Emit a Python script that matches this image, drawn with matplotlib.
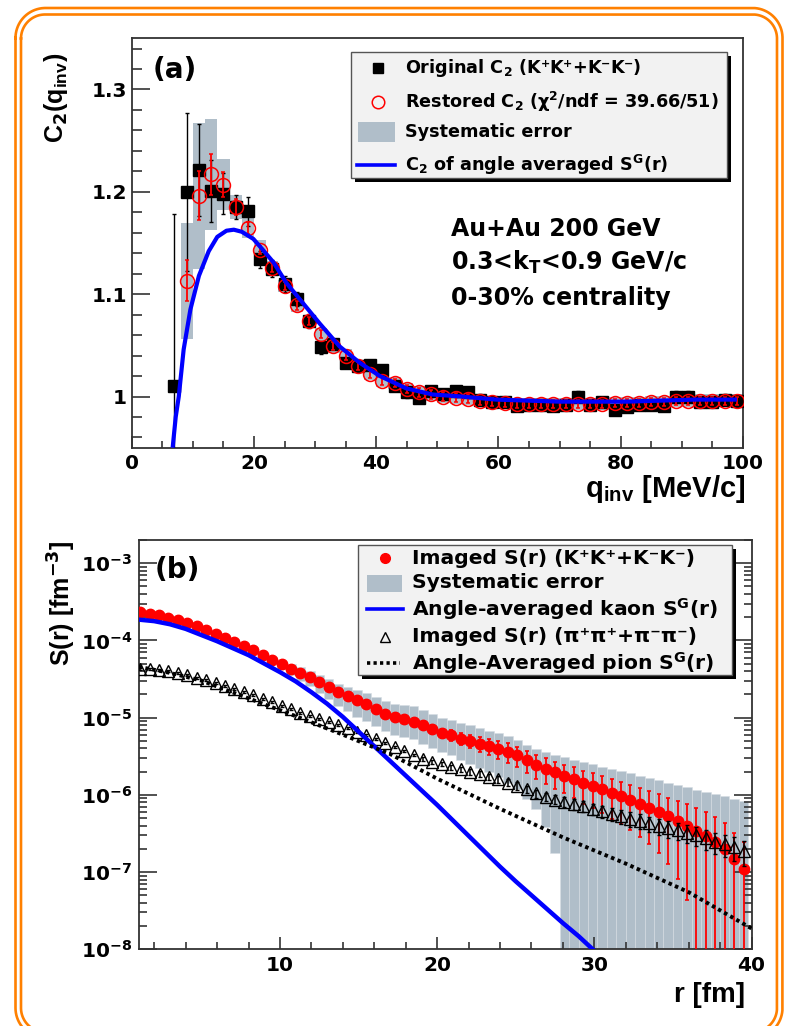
import numpy as np
import matplotlib
matplotlib.use("Agg")
import matplotlib.pyplot as plt
from matplotlib.patches import Rectangle
from matplotlib.ticker import FixedLocator, MultipleLocator, LogLocator, NullFormatter, FuncFormatter

plt.rcParams['font.family'] = ['DejaVu Sans']
plt.rcParams['font.weight'] = 'bold'
plt.rcParams['mathtext.fontset'] = 'custom'
plt.rcParams['mathtext.rm'] = 'DejaVu Sans:bold'
plt.rcParams['mathtext.bf'] = 'DejaVu Sans:bold'
plt.rcParams['mathtext.it'] = 'DejaVu Sans:bold'
plt.rcParams['mathtext.sf'] = 'DejaVu Sans:bold'
plt.rcParams['mathtext.default'] = 'rm'

W, H = 786, 1026
GREY = '#b0bec9'
BLUE = '#0000ff'
ORANGE = '#ff8000'

# ---------------- panel (a): two-kaon correlation function ----------------
q_orig = np.arange(7, 100, 2)
c2_orig = [1.010, 1.200, 1.221, 1.201, 1.198, 1.185, 1.181, 1.134, 1.125, 1.110,
           1.095, 1.074, 1.048, 1.051, 1.033, 1.030, 1.031, 1.026, 1.010, 1.004,
           0.999, 1.005, 1.002, 1.005, 1.004, 0.997, 0.995, 0.995, 0.991, 0.992,
           0.992, 0.991, 0.992, 1.000, 0.992, 0.995, 0.987, 0.990, 0.992, 0.992,
           0.991, 1.000, 1.000, 0.995, 0.995, 0.997, 0.996]
c2_orig_err = [0.168, 0.077, 0.045, 0.030, 0.020, 0.012, 0.014, 0.008, 0.008, 0.008,
               0.007, 0.007, 0.006] + [0.005] * 34

q_rest = np.arange(9, 100, 2)
c2_rest = [1.113, 1.196, 1.217, 1.207, 1.185, 1.165, 1.143, 1.126, 1.108, 1.089,
           1.074, 1.061, 1.049, 1.040, 1.030, 1.022, 1.015, 1.013, 1.007, 1.004,
           1.002, 1.000, 0.999, 0.998, 0.996, 0.995, 0.994, 0.993, 0.993, 0.993,
           0.993, 0.993, 0.993, 0.993, 0.993, 0.994, 0.994, 0.994, 0.995, 0.995,
           0.996, 0.996, 0.996, 0.996, 0.996, 0.996]
c2_rest_err = [0.020, 0.024, 0.020, 0.012, 0.008, 0.006] + [0.004] * 40
c2_sys = [0.057, 0.071, 0.054, 0.025, 0.012, 0.010, 0.010] + [0.006] * 39

q_fit = [6.7, 7.2, 7.7, 8.5, 9.6, 11.0, 12.6, 14.0, 15.5, 16.7, 18.0, 19.9, 21.5,
         23.2, 25.3, 27.5, 30.8, 34.0, 37.3, 40.6, 44.9, 49.2, 54.0, 59.6, 70.0,
         81.0, 92.0, 99.0]
c2_fit = [0.950, 0.980, 1.000, 1.046, 1.085, 1.118, 1.142, 1.156, 1.162, 1.163,
          1.161, 1.154, 1.143, 1.131, 1.111, 1.095, 1.071, 1.049, 1.033, 1.020,
          1.008, 1.002, 1.000, 0.997, 0.995, 0.995, 0.997, 0.997]

# ---------------- panel (b): imaged source functions ----------------
r_bins = 1.1 + 0.6 * np.arange(65)
kaon_log10_S = [-3.633, -3.653, -3.675, -3.705, -3.740, -3.775, -3.818, -3.870, -3.912, -3.969,
                -4.021, -4.076, -4.128, -4.190, -4.248, -4.310, -4.365, -4.420, -4.473, -4.538,
                -4.603, -4.668, -4.720, -4.775, -4.827, -4.882, -4.948, -4.990, -5.020, -5.050,
                -5.100, -5.150, -5.200, -5.230, -5.270, -5.300, -5.335, -5.370, -5.400, -5.440,
                -5.490, -5.550, -5.610, -5.660, -5.710, -5.760, -5.800, -5.850, -5.890, -5.930,
                -5.980, -6.020, -6.070, -6.120, -6.170, -6.220, -6.280, -6.340, -6.400, -6.470,
                -6.530, -6.610, -6.700, -6.830, -6.960]
kaon_stat_frac = [0.03] * 25 + [0.06, 0.07, 0.08, 0.09, 0.10,
                                0.12, 0.13, 0.14, 0.16, 0.18, 0.20,
                                0.22, 0.24, 0.26, 0.28, 0.30, 0.32,
                                0.34, 0.36, 0.38, 0.40, 0.43, 0.46,
                                0.48, 0.50, 0.53, 0.56, 0.59, 0.62,
                                0.66, 0.71, 0.76, 0.82, 0.89, 0.98,
                                1.05, 1.10, 1.15, 1.20, 1.25]
sys_top_log10 = [-3.593, -3.613, -3.635, -3.665, -3.700, -3.735, -3.778, -3.830, -3.872, -3.929,
                 -3.981, -4.036, -4.088, -4.150, -4.208, -4.260, -4.305, -4.350, -4.393, -4.448,
                 -4.503, -4.558, -4.600, -4.645, -4.687, -4.732, -4.788, -4.820, -4.840, -4.850,
                 -4.900, -4.950, -5.000, -5.030, -5.070, -5.100, -5.135, -5.170, -5.200, -5.240,
                 -5.290, -5.350, -5.410, -5.450, -5.480, -5.515, -5.545, -5.574, -5.604, -5.634,
                 -5.664, -5.694, -5.723, -5.753, -5.783, -5.813, -5.842, -5.872, -5.902, -5.932,
                 -5.961, -5.991, -6.021, -6.051, -6.080]
sys_bot_log10 = [-3.673, -3.693, -3.715, -3.745, -3.780, -3.815, -3.858, -3.910, -3.952, -4.009,
                 -4.061, -4.116, -4.168, -4.230, -4.288, -4.370, -4.445, -4.520, -4.593, -4.678,
                 -4.763, -4.848, -4.920, -4.985, -5.047, -5.112, -5.178, -5.220, -5.250, -5.280,
                 -5.340, -5.390, -5.440, -5.490, -5.550, -5.600, -5.655, -5.710, -5.770, -5.840,
                 -5.930, -6.050, -6.180, -6.410, -6.750] + [-9.0] * 20

pion_log10_S = [-4.365, -4.370, -4.385, -4.400, -4.420, -4.450, -4.480, -4.510, -4.550, -4.590,
                -4.630, -4.670, -4.710, -4.760, -4.800, -4.850, -4.890, -4.940, -4.980, -5.020,
                -5.060, -5.100, -5.140, -5.190, -5.230, -5.280, -5.330, -5.380, -5.430, -5.480,
                -5.530, -5.570, -5.600, -5.640, -5.670, -5.700, -5.730, -5.770, -5.800, -5.840,
                -5.880, -5.930, -5.980, -6.030, -6.060, -6.090, -6.120, -6.150, -6.180, -6.210,
                -6.250, -6.280, -6.310, -6.340, -6.370, -6.400, -6.430, -6.460, -6.490, -6.520,
                -6.560, -6.610, -6.640, -6.670, -6.730]
pion_stat_frac = [0.03] * 30 + [0.06, 0.06, 0.07, 0.07, 0.08, 0.08, 0.09, 0.09, 0.10, 0.10,
                                0.11, 0.11, 0.12, 0.12, 0.13, 0.14, 0.15, 0.16, 0.17, 0.18,
                                0.19, 0.20, 0.21, 0.22, 0.23, 0.24, 0.25, 0.26, 0.27, 0.28,
                                0.29, 0.30, 0.32, 0.34, 0.36]

r_kaon_fit = [1.0, 2.0, 3.0, 4.0, 5.0, 6.0, 7.0, 8.0, 9.0, 10.0, 11.0, 12.0, 13.0, 14.0,
              15.0, 16.0, 17.0, 18.0, 19.0, 20.0, 21.0, 22.0, 23.0, 24.0, 25.0, 26.0,
              27.0, 28.0, 29.0, 29.9]
kaon_fit_log10 = [-3.73, -3.75, -3.79, -3.85, -3.93, -4.01, -4.10, -4.19, -4.30, -4.41, -4.53,
                  -4.67, -4.82, -4.99, -5.18, -5.37, -5.56, -5.75, -5.94, -6.13, -6.33, -6.53,
                  -6.73, -6.93, -7.12, -7.30, -7.48, -7.66, -7.83, -8.00]
r_pion_fit = [1.0, 3.0, 5.0, 8.0, 11.0, 14.0, 17.0, 20.0, 24.0, 28.0, 32.0, 36.0, 40.0]
pion_fit_log10 = [-4.34, -4.42, -4.52, -4.75, -4.98, -5.22, -5.47, -5.79, -6.18, -6.55, -6.89,
                  -7.26, -7.73]

# ---------------- figure ----------------
fig = plt.figure(figsize=(W / 100, H / 100), dpi=100)
fig.patch.set_facecolor('white')


def fx(x):
    return x / W


def fy(y):
    return 1 - y / H


ax1 = fig.add_axes([fx(131.7), fy(447.7), fx(743) - fx(131.7), fy(38.3) - fy(447.7)])
ax2 = fig.add_axes([fx(138.5), fy(949.3), fx(751.5) - fx(138.5), fy(540) - fy(949.3)])

SPINE = '#333333'
for ax in (ax1, ax2):
    for s in ax.spines.values():
        s.set_linewidth(1.3)
        s.set_color(SPINE)

# panel (a)
c2_rest_a = np.array(c2_rest)
c2_sys_a = np.array(c2_sys)
ax1.bar(q_rest, 2 * c2_sys_a, bottom=c2_rest_a - c2_sys_a, width=2.0, color=GREY,
        linewidth=0, zorder=1)
ax1.errorbar(q_orig, c2_orig, yerr=c2_orig_err, fmt='s', ms=8.5, mfc='black', mec='black',
             ecolor='black', elinewidth=1.0, capsize=1.5, capthick=1.0, zorder=3)
ax1.errorbar(q_rest, c2_rest, yerr=c2_rest_err, fmt='o', ms=10, mfc='none', mec='red',
             mew=1.1, ecolor='red', elinewidth=1.3, capsize=1.5, capthick=1.2, zorder=4)
ax1.plot(q_fit, c2_fit, color=BLUE, lw=3.0, zorder=5, solid_capstyle='butt')

ax1.set_xlim(0, 100)
ax1.set_ylim(0.95, 1.35)
ax1.xaxis.set_major_locator(MultipleLocator(20))
ax1.xaxis.set_minor_locator(MultipleLocator(5))
ax1.yaxis.set_major_locator(FixedLocator([1.0, 1.1, 1.2, 1.3]))
ax1.yaxis.set_minor_locator(MultipleLocator(0.02))
ax1.yaxis.set_major_formatter(FuncFormatter(lambda v, p: '1' if abs(v - 1) < 1e-9 else '%.1f' % v))
ax1.tick_params(which='both', direction='in', top=False, right=False, colors=SPINE,
                labelcolor='black', labelsize=14.5, width=1.2)
ax1.tick_params(axis='y', which='major', length=13, pad=3.6)
ax1.tick_params(axis='y', which='minor', length=7)
ax1.tick_params(axis='x', which='major', length=8.6, pad=4.3)
ax1.tick_params(axis='x', which='minor', length=5)

# panel (b)
kaon_S = 10 ** np.array(kaon_log10_S)
pion_S = 10 ** np.array(pion_log10_S)
sys_top = 10 ** np.array(sys_top_log10)
sys_bot = 10 ** np.array(sys_bot_log10)
ax2.bar(r_bins, sys_top - sys_bot, bottom=sys_bot, width=0.6, color=GREY,
        edgecolor='#d6dde3', linewidth=0.4, zorder=1)
ax2.errorbar(r_bins, kaon_S, yerr=kaon_S * np.array(kaon_stat_frac), fmt='o', ms=7.5,
             mfc='red', mec='red', ecolor='red', elinewidth=1.3, capsize=1.5, capthick=1.2,
             zorder=3)
ax2.errorbar(r_bins, pion_S, yerr=pion_S * np.array(pion_stat_frac), fmt='^', ms=8,
             mfc='none', mec='black', mew=1.0, ecolor='black', elinewidth=1.1, capsize=1.5,
             capthick=1.0, zorder=4)
ax2.plot(r_kaon_fit, 10 ** np.array(kaon_fit_log10), color=BLUE, lw=3.2, zorder=5)
ax2.plot(r_pion_fit, 10 ** np.array(pion_fit_log10), color='black', lw=2.8,
         linestyle=(0, (0.9, 0.9)), zorder=6)

ax2.set_yscale('log')
ax2.set_xlim(1, 40)
ax2.set_ylim(1e-8, 2e-3)
ax2.xaxis.set_major_locator(MultipleLocator(10))
ax2.xaxis.set_minor_locator(MultipleLocator(2))
ax2.yaxis.set_major_locator(LogLocator(base=10, numticks=20))
ax2.yaxis.set_minor_locator(LogLocator(base=10, subs=np.arange(2, 10), numticks=20))
ax2.yaxis.set_minor_formatter(NullFormatter())
ax2.yaxis.set_major_formatter(FuncFormatter(lambda v, p: r'$10^{%d}$' % int(round(np.log10(v)))))
ax2.tick_params(which='both', direction='in', top=False, right=True, colors=SPINE,
                labelcolor='black', labelsize=14.5, width=1.2)
ax2.tick_params(axis='y', which='major', length=13, pad=4.5)
ax2.tick_params(axis='y', which='minor', length=6)
ax2.tick_params(axis='x', which='major', length=9, pad=4.5)
ax2.tick_params(axis='x', which='minor', length=5)

# ---------------- overlay: frame, labels, legends ----------------
ov = fig.add_axes([0, 0, 1, 1], zorder=10)
ov.set_xlim(0, W)
ov.set_ylim(H, 0)
ov.axis('off')


def rounded_outline(x0, y0, x1, y1, rad, n=40):
    """Closed outline of a rounded rectangle (y grows downwards)."""
    t = np.linspace(0.0, np.pi / 2, n)
    xs = np.concatenate([x0 + rad - rad * np.cos(t), x1 - rad + rad * np.sin(t),
                         x1 - rad + rad * np.cos(t), x0 + rad - rad * np.sin(t), [x0]])
    ys = np.concatenate([y0 + rad - rad * np.sin(t), y0 + rad - rad * np.cos(t),
                         y1 - rad + rad * np.sin(t), y1 - rad + rad * np.cos(t), [y0 + rad]])
    return xs, ys


for (x0, y0, x1, y1, rad) in [(15.5, 8.0, 782.5, 1038, 30), (21.0, 14.5, 777.0, 1032, 24)]:
    xs, ys = rounded_outline(x0, y0, x1, y1, rad)
    ov.plot(xs, ys, color=ORANGE, lw=1.9, solid_joinstyle='round')

TITLE_FONT = ['Liberation Sans', 'DejaVu Sans']
ov.text(745, 497, r'q$_{\mathregular{inv}}$ [MeV/c]', ha='right', va='baseline',
        fontsize=21, fontweight='bold', family=TITLE_FONT)
ov.text(745, 1002, 'r [fm]', ha='right', va='baseline', fontsize=20, fontweight='bold',
        family=TITLE_FONT)
ov.text(56, 53, r'C$_2$(q$_{\mathregular{inv}}$)', rotation=90, ha='center', va='top',
        fontsize=18, fontweight='bold', family=TITLE_FONT)
ov.text(62, 540, r'S(r) [fm$^{-3}$]', rotation=90, ha='center', va='top',
        fontsize=18, fontweight='bold', family=TITLE_FONT)

ov.text(153, 78, '(a)', ha='left', va='baseline', fontsize=20, fontweight='bold')
ov.text(155, 578, '(b)', ha='left', va='baseline', fontsize=20, fontweight='bold')

ov.text(451, 236, 'Au+Au 200 GeV', ha='left', va='baseline', fontsize=17)
ov.text(451, 270, r'0.3<k$_{T}$<0.9 GeV/c', ha='left', va='baseline', fontsize=17)
ov.text(451, 305, '0-30% centrality', ha='left', va='baseline', fontsize=17)


def legend_box(x0, y0, x1, y1):
    ov.add_patch(Rectangle((x0 + 4, y0 + 4), x1 - x0, y1 - y0, facecolor='black',
                           edgecolor='none', zorder=1))
    ov.add_patch(Rectangle((x0, y0), x1 - x0, y1 - y0, facecolor='#f2f2f2',
                           edgecolor='#555555', linewidth=1.0, zorder=2))


# legend of panel (a)
legend_box(351, 51.7, 726.7, 178)
ov.plot([378], [68], marker='s', ms=7, color='black', zorder=3)
ov.plot([378], [101.7], marker='o', ms=9, mfc='none', mec='red', mew=1.1, zorder=3)
ov.add_patch(Rectangle((358, 121.7), 37, 20, facecolor=GREY, edgecolor='none', zorder=3))
ov.plot([357, 395], [165, 165], color=BLUE, lw=2.6, zorder=3)
lx, fs = 405, 12.7
ov.text(lx, 68, r'Original C$_2$ (K⁺K⁺+K⁻K⁻)', va='center', fontsize=fs, zorder=4)
ov.text(lx, 101.7, r'Restored C$_2$ ($\chi^2$/ndf = 39.66/51)', va='center', fontsize=fs, zorder=4)
ov.text(lx, 131.7, 'Systematic error', va='center', fontsize=fs, zorder=4)
ov.text(lx, 165, r'C$_2$ of angle averaged S$^G$(r)', va='center', fontsize=fs, zorder=4)

# legend of panel (b)
legend_box(358.3, 545, 731.7, 675)
ov.plot([385], [558.3], marker='o', ms=7, color='red', zorder=3)
ov.add_patch(Rectangle((366.7, 575), 35, 16.7, facecolor=GREY, edgecolor='none', zorder=3))
ov.plot([366.7, 403.3], [609.3, 609.3], color=BLUE, lw=2.6, zorder=3)
ov.plot([385], [636.7], marker='^', ms=6.5, mfc='none', mec='black', mew=1.0, zorder=3)
ov.plot([366.7, 400], [663.3, 663.3], color='black', lw=2.6, linestyle=(0, (0.9, 0.9)), zorder=3)
lx, fs = 411.7, 14.6
ov.text(lx, 558.3, 'Imaged S(r) (K⁺K⁺+K⁻K⁻)', va='center', fontsize=fs, zorder=4)
ov.text(lx, 582.7, 'Systematic error', va='center', fontsize=fs, zorder=4)
ov.text(lx, 609.3, r'Angle-averaged kaon S$^G$(r)', va='center', fontsize=fs, zorder=4)
ov.text(lx, 636.7, 'Imaged S(r) (π⁺π⁺+π⁻π⁻)', va='center', fontsize=fs, zorder=4)
ov.text(lx, 663.3, r'Angle-Averaged pion S$^G$(r)', va='center', fontsize=fs, zorder=4)

fig.savefig('out.png', dpi=100)
